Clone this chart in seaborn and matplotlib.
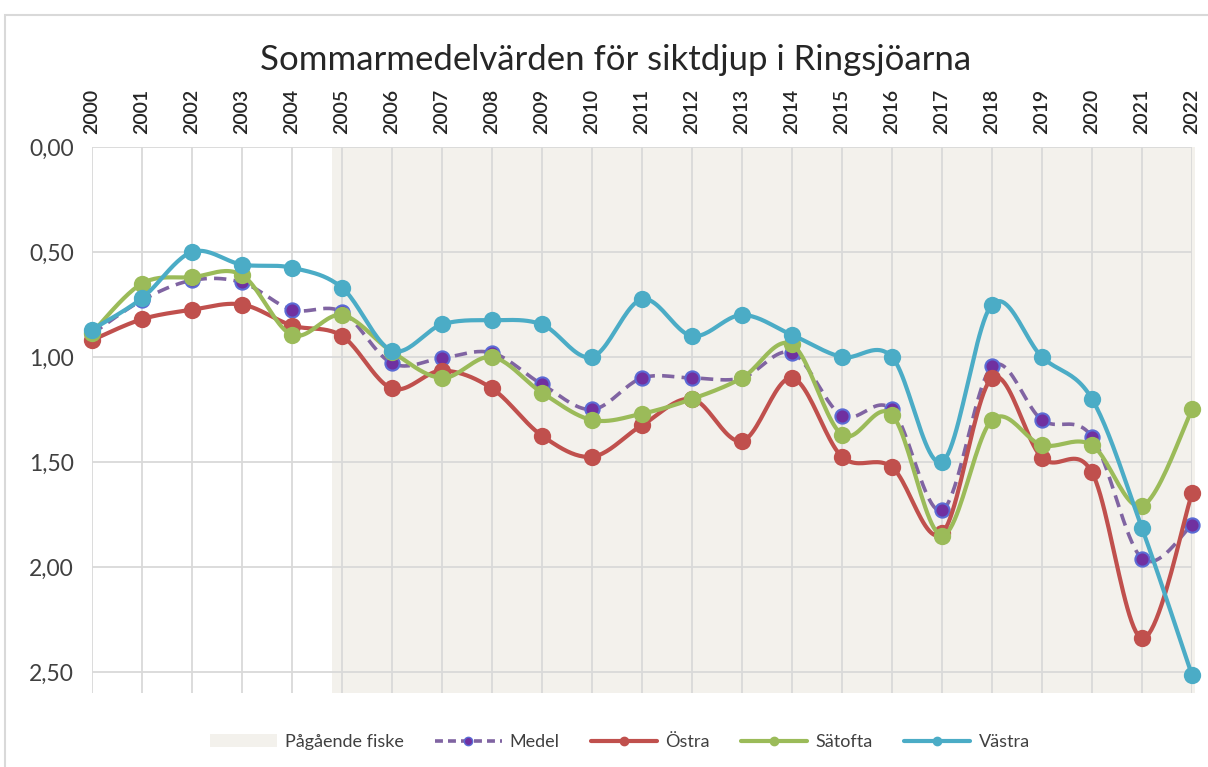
import numpy as np
import pandas as pd
import matplotlib
matplotlib.use("Agg")
import matplotlib.pyplot as plt
import seaborn as sns
from matplotlib.lines import Line2D
from matplotlib.patches import Patch, Rectangle
from matplotlib.ticker import FixedLocator, FuncFormatter

# ---------------- data ----------------
years = list(range(2000, 2023))
medel = [0.89, 0.73, 0.635, 0.645, 0.775, 0.785, 1.03, 1.005, 0.98, 1.13, 1.25, 1.10,
         1.10, 1.10, 0.98, 1.28, 1.25, 1.73, 1.045, 1.30, 1.38, 1.96, 1.80]
ostra = [0.92, 0.82, 0.775, 0.75, 0.85, 0.90, 1.15, 1.065, 1.15, 1.375, 1.475, 1.325,
         1.20, 1.40, 1.10, 1.475, 1.525, 1.84, 1.10, 1.48, 1.55, 2.34, 1.65]
satofta = [0.885, 0.65, 0.62, 0.61, 0.895, 0.80, 0.975, 1.10, 1.00, 1.17, 1.30, 1.27,
           1.20, 1.10, 0.94, 1.37, 1.275, 1.85, 1.30, 1.42, 1.42, 1.71, 1.25]
vastra = [0.87, 0.72, 0.50, 0.56, 0.575, 0.67, 0.97, 0.845, 0.825, 0.845, 1.00, 0.725,
          0.90, 0.80, 0.895, 1.00, 1.00, 1.50, 0.75, 1.00, 1.20, 1.815, 2.515]
series_names = ["Medel", "Östra", "Sätofta", "Västra"]
fiske_label = "Pågående fiske"
fiske_start = 2004.8
title = "Sommarmedelvärden för siktdjup i Ringsjöarna"
ytick_vals = [0.0, 0.5, 1.0, 1.5, 2.0, 2.5]

# ---------------- style ----------------
sns.set_theme(style="white")
plt.rcParams["font.family"] = ["Lato", "DejaVu Sans"]

colors = {"Medel": "#8064a2", "Östra": "#c0504d", "Sätofta": "#9bbb59", "Västra": "#4bacc6"}
mface = {"Medel": "#7030a0", "Östra": "#c0504d", "Sätofta": "#9bbb59", "Västra": "#4bacc6"}
medge = {"Medel": "#5b6bd5", "Östra": "#c0504d", "Sätofta": "#9bbb59", "Västra": "#4bacc6"}
grid_c = "#d9d9d9"
shade_c = "#f3f1ec"


def smooth(x, y, n=24):
    """Excel-like smoothed curve (cubic Bezier / Catmull-Rom) through the points."""
    P = np.column_stack([np.asarray(x, float), np.asarray(y, float)])
    Pe = np.vstack([P[0], P, P[-1]])
    out = []
    for i in range(len(P) - 1):
        p0, p1, p2, p3 = Pe[i], Pe[i + 1], Pe[i + 2], Pe[i + 3]
        c1 = p1 + (p2 - p0) / 6.0
        c2 = p2 - (p3 - p1) / 6.0
        t = np.linspace(0, 1, n, endpoint=(i == len(P) - 2))[:, None]
        b = (1 - t) ** 3 * p1 + 3 * (1 - t) ** 2 * t * c1 + 3 * (1 - t) * t ** 2 * c2 + t ** 3 * p2
        out.append(b)
    return np.vstack(out)


W, H = 1208, 767
fig = plt.figure(figsize=(W / 100, H / 100), dpi=100)
fig.patch.set_facecolor("white")
ax = fig.add_axes([92 / W, 1 - 693 / H, (1192 - 92) / W, (693 - 147) / H])
ax.set_facecolor("white")

# outer chart border (left & top visible)
fig.patches.append(Rectangle((5 / W, -0.05), 1.2, 1 - 15 / H + 0.05, transform=fig.transFigure,
                             fill=False, edgecolor="#d9d9d9", lw=1.5, zorder=0))

ax.set_xlim(2000, 2022)
ax.set_ylim(2.6, 0)

# shaded ongoing-fishing period
ax.axvspan(fiske_start, 2022.07, color=shade_c, lw=0, zorder=0.5, clip_on=False)

# grid
for yr in years:
    ax.axvline(yr, color=grid_c, lw=1.3, zorder=1)
for yv in ytick_vals:
    ax.axhline(yv, color=grid_c, lw=1.3, zorder=1)

data = {"Medel": medel, "Östra": ostra, "Sätofta": satofta, "Västra": vastra}
for k, name in enumerate(series_names):
    vals = data[name]
    curve = smooth(years, vals)
    df = pd.DataFrame({"x": curve[:, 0], "y": curve[:, 1]})
    if name == "Medel":
        sns.lineplot(data=df, x="x", y="y", sort=False, estimator=None, ax=ax,
                     color=colors[name], lw=2.6, zorder=3 + k, clip_on=False)
        ax.lines[-1].set_dashes([3.4, 2.0])
        size = 105
    else:
        sns.lineplot(data=df, x="x", y="y", sort=False, estimator=None, ax=ax,
                     color=colors[name], lw=3.0, zorder=3 + k, clip_on=False)
        size = 120
    sns.scatterplot(x=years, y=vals, ax=ax, s=size, color=mface[name],
                    edgecolor=medge[name], linewidth=1.5, zorder=3.5 + k, clip_on=False)

# axes / ticks
for sp in ax.spines.values():
    sp.set_visible(False)
ax.set_xlabel("")
ax.set_ylabel("")
ax.xaxis.tick_top()
ax.xaxis.set_major_locator(FixedLocator(years))
ax.set_xticklabels([str(y) for y in years], rotation=90, fontsize=14, color="#262626",
                   fontweight="semibold")
ax.tick_params(axis="x", length=0, pad=9)
ax.yaxis.set_major_locator(FixedLocator(ytick_vals))
ax.yaxis.set_major_formatter(FuncFormatter(lambda v, p: f"{v:.2f}".replace(".", ",")))
ax.tick_params(axis="y", length=0, pad=13, labelsize=16.5, labelcolor="#404040")
ax.grid(False)

fig.text(616 / W, 1 - 60 / H, title, ha="center", va="center", fontsize=25, color="#262626")

# legend
handles = [Patch(facecolor=shade_c, edgecolor="none", label=fiske_label)]
for name in series_names:
    handles.append(Line2D([0], [0], color=colors[name], lw=2.6 if name == "Medel" else 3.0,
                          ls=(0, (2.2, 1.4)) if name == "Medel" else "-",
                          marker="o", markersize=6, markerfacecolor=mface[name],
                          markeredgecolor=medge[name], label=name))
leg = fig.legend(handles=handles, loc="center", bbox_to_anchor=(620 / W, 1 - 742 / H), ncol=5,
                 frameon=False, fontsize=13, handlelength=3.7, handletextpad=0.45,
                 columnspacing=1.7, labelcolor="#404040")

fig.savefig("out.png", dpi=100, facecolor="white")
